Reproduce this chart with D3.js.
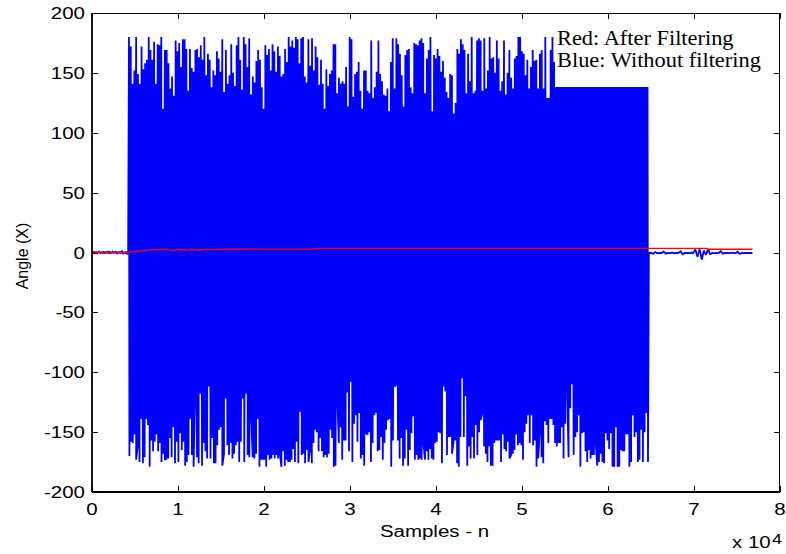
<!DOCTYPE html>
<html><head><meta charset="utf-8">
<script src="https://cdn.jsdelivr.net/npm/d3@7"></script>
<style>body{margin:0;background:#fff}svg{display:block}</style>
</head><body>
<svg id="c" width="786" height="554"></svg>
<script>
// ---- data ----
const xTicks = [0, 10000, 20000, 30000, 40000, 50000, 60000, 70000, 80000];
const xTickLabels = ["0","1","2","3","4","5","6","7","8"];
const yTicks = [-200, -150, -100, -50, 0, 50, 100, 150, 200];
const yTickLabels = ["-200","-150","-100","-50","0","50","100","150","200"];

// blue (without filtering): quiet start, dense wrapped-angle region (peaks/troughs), quiet tail
const blueHead = [0.2,-0.4,0.5,-0.2,0.3,-0.6,0.1,0.6,-0.5,0.2,-0.3,0.8,-0.8,0.2,0.4,-0.4,1.2,-1.0,0.3,-0.2,0.5,-0.6,0.3,0.9,-1.1,0.2,-0.3,0.4,-0.5,1.5,-1.2,0.3,-0.8,0.6,-1.5,0.5];
const bluePeaks = [
180,172,141,152,180,149,141,172,153,158,161,180,169,161,176,141,174,173,180,120,169,169,158,137,147,131,177,168,175,155,178,178,170,135,170,154,151,169,170,163,173,161,180,148,166,161,138,152,148,168,162,151,178,134,169,141,148,174,150,139,173,180,161,136,180,174,155,179,132,147,142,160,169,161,138,120,173,165,170,152,174,168,151,172,164,147,149,170,159,180,172,177,171,180,178,158,179,180,147,142,178,156,179,152,172,163,140,161,141,120,153,139,149,152,174,
174,133,146,141,143,141,155,122,180,178,130,149,151,159,135,120,152,152,135,133,177,129,138,151,177,149,143,132,131,137,118,159,179,137,179,174,166,148,122,165,169,170,138,133,175,174,173,177,179,175,133,162,169,180,118,165,162,170,164,151,160,146,134,129,149,148,116,125,170,166,178,174,169,133,166,143,180,133,135,177,179,177,135,179,137,152,180,162,163,150,177,162,135,143,177,132,150,169,146,137,162,164,180,180,168,166,148,161,137,155,169,160,161,137,166,169,137,180,129,129,169,180,159,164,155,180,172,
165,178,150,172,180,158,143,176,169,152,180,161,147,175,170,139,178,166,155,180,172,160,149,177,168,141,174,180,163,157,179,170,145,166,175,152,180,168,159,173,148,178,164,171,156,180,167,150];
const blueTroughs = [
-170,-158,-159,-152,-173,-161,-175,-139,-176,-171,-139,-144,-179,-157,-166,-158,-152,-166,-159,-175,-168,-173,-172,-172,-155,-171,-146,-176,-158,-175,-151,-165,-158,-178,-175,-169,-139,-169,-179,-115,-171,-176,-118,-178,-159,-166,-172,-112,-172,-155,-176,-176,-161,-148,-146,-178,-168,-122,-161,-169,-159,-172,-168,-161,-158,-175,-158,-122,-175,-118,-169,-171,-134,-171,-172,-168,-139,-179,-173,-173,-173,-179,-169,-173,-172,-169,-172,-169,-172,-168,-179,-166,-178,-173,-175,-175,-173,-164,-175,-158,-176,-133,-169,-168,-176,-165,-175,-164,-176,-159,-148,-150,-166,-155,-166,-171,-169,-171,-168,-148,-155,-179,-178,
-120,-159,-146,-173,-157,-157,-117,-166,-108,-175,-143,-136,-158,-134,-172,-169,-178,-151,-152,-150,-175,-159,-136,-134,-166,-165,-154,-173,-159,-148,-140,-139,-179,-157,-112,-110,-157,-172,-155,-178,-172,-148,-178,-165,-151,-137,-173,-169,-173,-172,-173,-159,-173,-166,-173,-164,-172,-173,-159,-158,-150,-151,-176,-112,-116,-169,-154,-154,-168,-157,-157,-176,-179,-154,-105,-154,-120,-178,-162,-172,-154,-172,-144,-169,-150,-140,-134,-162,-168,-175,-162,-178,-178,-159,-157,-157,-157,-175,-152,-164,-166,-158,-172,-169,-168,-165,-152,-161,-159,-161,-173,-150,-143,-136,-159,-136,-161,-157,-179,-172,-148,-171,-176,-141,-144,-159,-139,-139,-144,-159,-162,-159,
-159,-146,-172,-143,-108,-171,-130,-110,-169,-154,-150,-136,-179,-151,-150,-166,-175,-165,-172,-169,-169,-159,-178,-175,-168,-175,-176,-151,-157,-164,-151,-179,-179,-146,-179,-179,-165,-166,-166,-151,-151,-179,-175,-136,-154,-150,-175,-173,-148,-175,-150,-134,-175];
const blueTail = [-0.5,-0.2,-1.2,0.4,-0.6,-0.3,-0.4,0.8,-1.0,-0.3,-0.5,-0.2,-0.6,-0.4,-0.3,1.0,-1.5,-0.4,-0.3,-0.5,-0.2,-0.4,2.5,-3.5,3.0,-6.0,1.5,-2.0,2.8,-1.5,-0.4,-0.6,-0.3,-0.5,1.2,-1.0,-0.4,-0.3,-0.5,-0.2,-0.4,-0.6,0.6,-1.2,-0.3,-0.5,-0.4,-0.3,-0.4,-0.5];

// red (after filtering)
const redN = [0, 4000, 4400, 5000, 5600, 6600, 7400, 8000, 8600, 9400, 10200, 11000, 11600, 12400, 13200, 14000, 15000, 25900, 26000, 71500, 71600, 76800];
const redV = [0, 0, 0.3, 1.0, 1.3, 2.0, 2.6, 2.4, 2.8, 1.8, 2.7, 1.8, 2.7, 1.9, 2.8, 2.4, 2.7, 2.8, 3.5, 3.5, 2.7, 2.7];

// ---- drawing ----
const svg = d3.select("#c");
const L = 92, R = 780, T = 13, B = 492;
const x = d3.scaleLinear().domain([0, 80000]).range([L, R]);
const y = d3.scaleLinear().domain([-200, 200]).range([B, T]);

function spread(vals, n0, n1) {
  return vals.map((v, i) => [n0 + i * (n1 - n0) / (vals.length - 1), v]);
}
const dense = spread(bluePeaks, 4300, 64600).concat(spread(blueTroughs, 4350, 64650)).sort((a, b) => a[0] - b[0]);
const blue = spread(blueHead, 0, 4200).concat(dense, spread(blueTail, 64750, 76800));
const red = redN.map((n, i) => [n, redV[i]]);

svg.append("clipPath").attr("id", "clip").append("rect")
  .attr("x", L).attr("y", T).attr("width", R - L).attr("height", B - T);

const line = d3.line().x(d => x(d[0])).y(d => y(d[1]));
const g = svg.append("g").attr("clip-path", "url(#clip)");
g.append("path").datum(blue).attr("d", line).attr("fill", "none").attr("stroke", "#0000ff")
  .attr("stroke-width", 1.8).attr("stroke-linejoin", "miter").attr("stroke-miterlimit", 1.5);
g.append("path").datum(red).attr("d", line).attr("fill", "none").attr("stroke", "#ff0000").attr("stroke-width", 1.3);

// legend box (white, no border)
svg.append("rect").attr("x", 555).attr("y", 26).attr("width", 207).attr("height", 61).attr("fill", "#fff");
const legendLines = ["Red: After Filtering", "Blue: Without filtering"];
legendLines.forEach((t, i) => {
  svg.append("g").attr("transform", `translate(557,${45 + i * 22}) scale(1.12,1)`)
    .append("text").attr("font-family", "'Times New Roman','Liberation Serif',serif")
    .attr("font-size", 20).attr("fill", "#000").text(t);
});

// axes box
const ax = svg.append("g").attr("stroke", "#000").attr("fill", "none");
ax.append("line").attr("x1", L).attr("x2", R).attr("y1", T + 0.5).attr("y2", T + 0.5).attr("stroke-width", 1);
ax.append("line").attr("x1", R - 0.5).attr("x2", R - 0.5).attr("y1", T).attr("y2", B).attr("stroke-width", 1);
ax.append("line").attr("x1", L).attr("x2", R).attr("y1", B).attr("y2", B).attr("stroke-width", 1.8);
ax.append("line").attr("x1", L).attr("x2", L).attr("y1", T).attr("y2", B).attr("stroke-width", 1.8);

const tl = 6;
xTicks.forEach(v => {
  const px = Math.round(x(v)) + 0.5;
  ax.append("line").attr("x1", px).attr("x2", px).attr("y1", B).attr("y2", B - tl).attr("stroke-width", 1);
  ax.append("line").attr("x1", px).attr("x2", px).attr("y1", T).attr("y2", T + tl).attr("stroke-width", 1);
});
yTicks.forEach(v => {
  const py = Math.round(y(v)) + 0.5;
  ax.append("line").attr("x1", L).attr("x2", L + tl).attr("y1", py).attr("y2", py).attr("stroke-width", 1);
  ax.append("line").attr("x1", R).attr("x2", R - tl).attr("y1", py).attr("y2", py).attr("stroke-width", 1);
});

const sans = "Arial,'Liberation Sans',sans-serif";
const k = 1.28;
function label(px, py, txt, anchor, size) {
  svg.append("g").attr("transform", `translate(${px},${py}) scale(${k},1)`)
    .append("text").attr("font-family", sans).attr("font-size", size).attr("fill", "#000")
    .attr("text-anchor", anchor).text(txt);
}
xTicks.forEach((v, i) => label(x(v), 515, xTickLabels[i], "middle", 16));
yTicks.forEach((v, i) => label(85, y(v) + 6, yTickLabels[i], "end", 16));

// axis titles
label(434.5, 537, "Samples - n", "middle", 16);
label(732, 548, "x 10", "start", 16);
label(772, 544, "4", "start", 14);
svg.append("text").attr("transform", "translate(28,256) rotate(-90)")
  .attr("font-family", sans).attr("font-size", 16).attr("text-anchor", "middle").attr("fill", "#000")
  .text("Angle (X)");
</script>
</body></html>
